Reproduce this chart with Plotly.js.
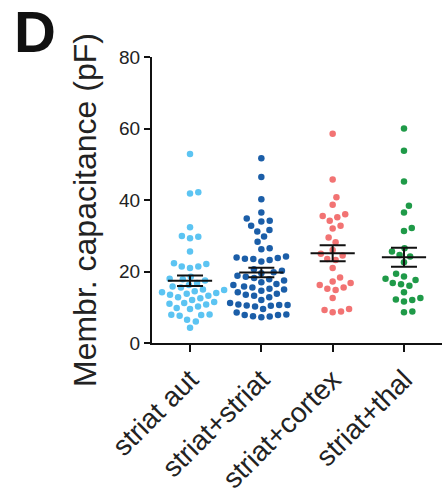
<!DOCTYPE html>
<html>
<head>
<meta charset="utf-8">
<script src="https://cdn.plot.ly/plotly-3.0.1.min.js"></script>
<style>html,body{margin:0;padding:0;background:#fff;}#chart{width:442px;height:500px;}</style>
</head>
<body>
<div id="chart"></div>
<script>
const categories = ['striat aut', 'striat+striat', 'striat+cortex', 'striat+thal'];
const yTickVals = [0, 20, 40, 60, 80];

const striatAut = [52.9, 42.2, 41.8, 32.4, 29.7, 29.3, 29.9, 25.6, 22.3, 21.4, 21.0, 21.4, 22.1,
  18.5, 18.0, 17.8, 17.5, 16.8, 16.2, 15.8, 15.5, 15.0, 14.8, 14.5, 14.2, 14.0, 13.8, 13.5, 13.2,
  12.8, 12.5, 12.0, 11.5, 11.2, 11.0, 10.8, 10.2, 9.8, 9.5, 8.0, 7.8, 7.6, 7.9, 6.5, 6.0, 4.3];
const striatStriat = [51.7, 46.4, 40.2, 36.5, 34.8, 34.2, 34.0, 32.8, 31.6, 31.2, 29.8, 28.3, 26.5, 26.2,
  24.2, 23.8, 23.6, 23.5, 23.9, 23.2, 22.8,
  20.6, 20.2, 19.8, 19.5, 18.8, 18.5, 18.2, 17.8, 17.5, 17.0, 16.5, 16.2, 15.8, 15.5, 15.2, 15.0,
  14.6, 14.2, 13.8, 13.5, 13.2, 12.8, 12.0, 11.2, 10.8, 10.6, 10.5, 10.4, 10.6, 10.2, 9.5, 8.5,
  8.0, 7.8, 7.5, 7.2, 7.4, 7.8];
const striatCortex = [58.5, 45.7, 40.8, 38.7, 36.0, 35.5, 35.2, 34.2, 32.8, 32.0, 29.5, 28.2, 26.0, 25.0,
  24.5, 23.5, 23.2, 21.0, 18.3, 17.2, 16.8, 16.2, 15.5, 15.2, 14.8, 12.6, 9.5, 8.8, 8.6, 9.2];
const striatThal = [60.0, 53.8, 45.2, 38.4, 36.5, 32.2, 31.3, 26.5, 25.6, 24.6, 24.2, 22.6, 19.4, 18.6,
  18.0, 17.6, 16.8, 16.4, 16.0, 14.2, 12.6, 12.2, 12.0, 11.6, 8.8, 8.6];

const groups = [striatAut, striatStriat, striatCortex, striatThal];
const colors = ['#5cc4f2', '#1b5ea8', '#f27373', '#1f9a48'];

// plot geometry (px)
const W = 442, H = 500;
const M = {l: 152, r: 0, t: 57, b: 157};
const plotW = W - M.l - M.r, plotH = H - M.t - M.b;
const xRange = [-0.533, 3.533], yRange = [0, 80];
const pxPerX = plotW / (xRange[1] - xRange[0]);
const pxPerY = plotH / (yRange[1] - yRange[0]);
const dotDist = 8.4;

function swarm(vals) {
  const idx = vals.map((v, i) => i).sort((a, b) => vals[a] - vals[b]);
  const placed = [];
  const out = new Array(vals.length);
  idx.forEach(i => {
    const y = vals[i] * pxPerY;
    const near = placed.filter(p => Math.abs(p.y - y) < dotDist);
    const cands = [0];
    near.forEach(p => {
      const dx = Math.sqrt(dotDist * dotDist - (p.y - y) * (p.y - y));
      cands.push(p.x + dx, p.x - dx);
    });
    cands.sort((a, b) => Math.abs(a) - Math.abs(b));
    let best = 0;
    for (const c of cands) {
      if (near.every(p => Math.hypot(p.x - c, p.y - y) >= dotDist - 1e-6)) { best = c; break; }
    }
    placed.push({x: best, y: y});
    out[i] = best;
  });
  return out;
}

const traces = [];
groups.forEach((vals, g) => {
  const off = swarm(vals);
  traces.push({
    type: 'scatter', mode: 'markers',
    x: off.map(o => g + o / pxPerX), y: vals,
    marker: {color: colors[g], size: 6.5, line: {width: 0}},
    hoverinfo: 'y', showlegend: false
  });
});

// mean and SEM
groups.forEach((vals, g) => {
  const n = vals.length;
  const mean = vals.reduce((a, b) => a + b, 0) / n;
  const sd = Math.sqrt(vals.reduce((a, b) => a + (b - mean) * (b - mean), 0) / (n - 1));
  const sem = sd / Math.sqrt(n);
  traces.push({
    type: 'scatter', mode: 'lines',
    x: [g - 0.31, g + 0.31], y: [mean, mean],
    line: {color: '#111', width: 2}, hoverinfo: 'skip', showlegend: false
  });
  traces.push({
    type: 'scatter', mode: 'markers',
    x: [g], y: [mean],
    marker: {size: 1, color: 'rgba(0,0,0,0)'},
    error_y: {type: 'data', array: [sem], visible: true, color: '#111', thickness: 2, width: 13},
    hoverinfo: 'skip', showlegend: false
  });
});

const fontFam = 'Arial, "Liberation Sans", Helvetica, sans-serif';
const layout = {
  width: W, height: H,
  margin: M,
  paper_bgcolor: '#fff', plot_bgcolor: '#fff',
  showlegend: false,
  font: {family: fontFam, color: '#222'},
  xaxis: {
    range: xRange, tickvals: [0, 1, 2, 3], ticktext: categories, tickangle: -45,
    ticks: 'outside', ticklen: 7, tickwidth: 2, tickcolor: '#111',
    showline: true, linecolor: '#111', linewidth: 2,
    showgrid: false, zeroline: false, tickfont: {size: 28, family: fontFam, color: '#222'}
  },
  yaxis: {
    range: yRange, tickvals: yTickVals,
    ticks: 'outside', ticklen: 6, tickwidth: 2, tickcolor: '#111',
    showline: true, linecolor: '#111', linewidth: 2,
    showgrid: false, zeroline: false, tickfont: {size: 19, family: fontFam, color: '#222'}
  },
  annotations: [
    {text: '<b>D</b>', xref: 'paper', yref: 'paper', x: (35 - M.l) / plotW, y: (H - M.b - 31) / plotH,
     xanchor: 'center', yanchor: 'middle', showarrow: false, font: {size: 58, family: fontFam, color: '#111'}},
    {text: 'Membr. capacitance (pF)', xref: 'paper', yref: 'paper', x: (85 - M.l) / plotW, y: (H - M.b - 210) / plotH,
     xanchor: 'center', yanchor: 'middle', textangle: -90, showarrow: false,
     font: {size: 32, family: fontFam, color: '#222'}}
  ]
};

Plotly.newPlot('chart', traces, layout, {staticPlot: true, displayModeBar: false});
</script>
</body>
</html>
